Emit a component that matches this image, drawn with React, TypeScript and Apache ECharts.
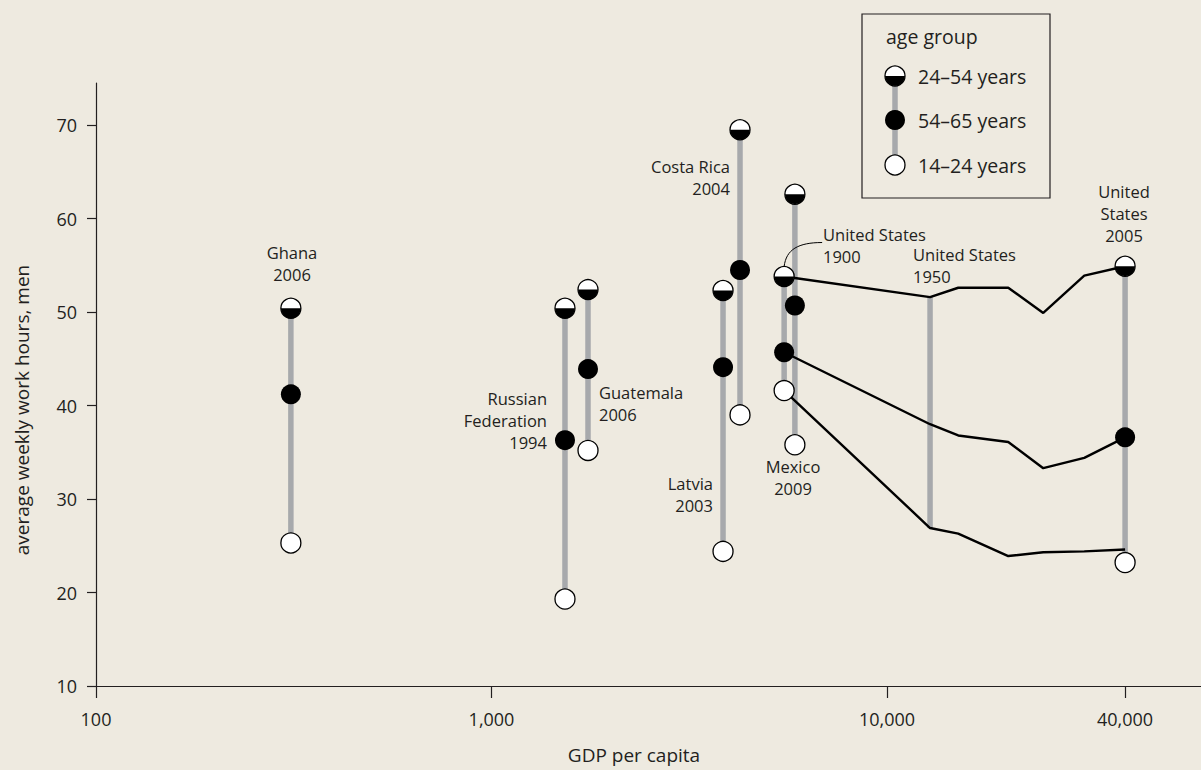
import React, { useEffect, useRef } from 'react';
import * as echarts from 'echarts';

// ---------- data ----------
const countryLabels = [
  'Ghana 2006',
  'Russian Federation 1994',
  'Guatemala 2006',
  'Latvia 2003',
  'Costa Rica 2004',
  'United States 1900',
  'Mexico 2009',
  'United States 2005',
];
const countryGdp = [311, 1534, 1754, 3850, 4250, 5495, 5850, 40000];
const hoursAge24to54 = [50.4, 50.4, 52.4, 52.3, 69.5, 53.8, 62.6, 54.9];
const hoursAge54to65 = [41.2, 36.3, 43.9, 44.1, 54.5, 45.7, 50.7, 36.6];
const hoursAge14to24 = [25.3, 19.3, 35.2, 24.4, 39.0, 41.6, 35.8, 23.2];

// United States trajectory 1900 -> 2005
const usPathGdp = [5495, 12850, 15140, 20260, 24840, 31540, 40000];
const usPath24to54 = [53.8, 51.6, 52.6, 52.6, 49.9, 53.9, 54.9];
const usPath54to65 = [45.7, 38.0, 36.8, 36.1, 33.3, 34.4, 36.6];
const usPath14to24 = [41.6, 26.9, 26.3, 23.9, 24.3, 24.4, 24.6];
const us1950Index = 1;

const xTickValues = [100, 1000, 10000, 40000];
const yTickValues = [10, 20, 30, 40, 50, 60, 70];

// ---------- styles ----------
const FONT = 'Open Sans';
const BG = '#eeeae0';
const INK = '#231f20';
const GRAY = '#a7a9ac';
const R = 10;
const TICK_FS = 18;
const NOTE_FS = 16.5;
const LEGEND_FS = 19.5;
const TITLE_FS = 19;

const lg = (v: number) => Math.log10(v);

const barData = countryGdp.map((g, i) => [lg(g), hoursAge24to54[i], hoursAge14to24[i]]);
barData.push([lg(usPathGdp[us1950Index]), usPath24to54[us1950Index], usPath14to24[us1950Index]]);

const pairs = (xs: number[], ys: number[]) => xs.map((x, i) => [lg(x), ys[i]]);

const halfMarker = (cx: number, cy: number, z?: number) => {
  const zz = z === undefined ? {} : { z };
  return {
    type: 'group',
    children: [
      { type: 'circle', ...zz, shape: { cx, cy, r: R }, style: { fill: '#ffffff' } },
      {
        type: 'sector',
        ...zz,
        shape: { cx, cy, r: R, r0: 0, startAngle: 0, endAngle: Math.PI, clockwise: true },
        style: { fill: '#000000' },
      },
      {
        type: 'circle',
        ...zz,
        shape: { cx, cy, r: R },
        style: { fill: 'none', stroke: '#000000', lineWidth: 1.3 },
      },
    ],
  };
};

const option: any = {
  animation: false,
  backgroundColor: BG,
  textStyle: { fontFamily: FONT },
  grid: { left: 96, right: 0, top: 83, bottom: 84, containLabel: false },
  xAxis: {
    type: 'value',
    min: 2,
    max: 4.794,
    splitLine: { show: false },
    axisLine: { lineStyle: { color: INK, width: 1.2 } },
    axisTick: { customValues: xTickValues.map(lg), length: 12, lineStyle: { color: INK, width: 1.2 } },
    axisLabel: {
      customValues: xTickValues.map(lg),
      formatter: (v: number) => Math.round(Math.pow(10, v)).toLocaleString('en-US'),
      color: INK,
      fontSize: TICK_FS,
      fontFamily: FONT,
      margin: 24,
    },
  },
  yAxis: {
    type: 'value',
    min: 10,
    max: 74.5,
    splitLine: { show: false },
    axisLine: { lineStyle: { color: INK, width: 1.2 } },
    axisTick: { customValues: yTickValues, length: 9, lineStyle: { color: INK, width: 1.2 } },
    axisLabel: { customValues: yTickValues, color: INK, fontSize: TICK_FS, fontFamily: FONT, margin: 19 },
  },
  series: [
    {
      type: 'custom',
      name: 'range',
      z: 1,
      data: barData,
      renderItem: (_p: any, api: any) => {
        const a = api.coord([api.value(0), api.value(1)]);
        const b = api.coord([api.value(0), api.value(2)]);
        return {
          type: 'line',
          shape: { x1: a[0], y1: a[1], x2: b[0], y2: b[1] },
          style: { stroke: GRAY, lineWidth: 5.5 },
        };
      },
    },
    ...[usPath24to54, usPath54to65, usPath14to24].map((ys) => ({
      type: 'line',
      z: 2,
      data: pairs(usPathGdp, ys),
      symbol: 'none',
      lineStyle: { color: '#000000', width: 2.4 },
    })),
    {
      type: 'scatter',
      name: '14–24 years',
      z: 3,
      data: pairs(countryGdp, hoursAge14to24),
      symbol: 'circle',
      symbolSize: 2 * R,
      itemStyle: { color: '#ffffff', borderColor: '#000000', borderWidth: 1.3, opacity: 1 },
    },
    {
      type: 'scatter',
      name: '54–65 years',
      z: 3,
      data: pairs(countryGdp, hoursAge54to65),
      symbol: 'circle',
      symbolSize: 2 * R,
      itemStyle: { color: '#000000', opacity: 1 },
    },
    {
      type: 'custom',
      name: '24–54 years',
      z: 3,
      data: pairs(countryGdp, hoursAge24to54),
      renderItem: (_p: any, api: any) => {
        const c = api.coord([api.value(0), api.value(1)]);
        return halfMarker(c[0], c[1]);
      },
    },
  ],
};

const txt = (text: string, x: number, y: number, align: string, fs: number = NOTE_FS) => ({
  type: 'text',
  x,
  y,
  z: 10,
  style: {
    text,
    fill: INK,
    fontFamily: FONT,
    fontSize: fs,
    textAlign: align,
    textVerticalAlign: 'middle',
    lineHeight: 22,
  },
});

export default function App() {
  const ref = useRef<HTMLDivElement>(null);
  useEffect(() => {
    document.body.style.margin = '0';
    const chart = echarts.init(ref.current as HTMLDivElement, null, { renderer: 'svg' });
    chart.setOption(option);

    const us1900 = chart.convertToPixel({ gridIndex: 0 }, [lg(countryGdp[5]), hoursAge24to54[5]]) as number[];
    const sx = us1900[0];
    const sy = us1900[1] - R;

    const graphics: any[] = [
      // annotations
      txt('Ghana\n2006', 292, 263.5, 'center'),
      txt('Russian\nFederation\n1994', 547, 420.5, 'right'),
      txt('Guatemala\n2006', 599, 403.5, 'left'),
      txt('Latvia\n2003', 713, 494, 'right'),
      txt('Costa Rica\n2004', 730, 177, 'right'),
      txt('United States\n1900', 823, 245.5, 'left'),
      txt('United States\n1950', 913, 265, 'left'),
      txt('Mexico\n2009', 793, 477, 'center'),
      txt('United\nStates\n2005', 1124, 213, 'center'),
      {
        type: 'bezierCurve',
        z: 10,
        shape: { x1: sx, y1: sy, cpx1: sx + 2, cpy1: sy - 17, cpx2: sx + 14, cpy2: sy - 24, x2: sx + 38, y2: sy - 24 },
        style: { stroke: '#000000', lineWidth: 1, fill: 'none' },
      },
      // axis titles
      txt('GDP per capita', 634, 755, 'center', TITLE_FS),
      {
        ...txt('average weekly work hours, men', 0, 0, 'center', TITLE_FS),
        x: 22,
        y: 410,
        rotation: Math.PI / 2,
      },
      // legend
      {
        type: 'rect',
        z: 10,
        shape: { x: 862, y: 14, width: 188, height: 184 },
        style: { fill: 'none', stroke: INK, lineWidth: 1.2 },
      },
      txt('age group', 886, 36, 'left', LEGEND_FS),
      {
        type: 'line',
        z: 10,
        shape: { x1: 895, y1: 76, x2: 895, y2: 165 },
        style: { stroke: GRAY, lineWidth: 5.5 },
      },
      halfMarker(895, 76, 11),
      {
        type: 'circle',
        z: 11,
        shape: { cx: 895, cy: 120, r: R },
        style: { fill: '#000000' },
      },
      {
        type: 'circle',
        z: 11,
        shape: { cx: 895, cy: 165, r: R },
        style: { fill: '#ffffff', stroke: '#000000', lineWidth: 1.3 },
      },
      txt('24–54 years', 918, 76, 'left', LEGEND_FS),
      txt('54–65 years', 918, 120, 'left', LEGEND_FS),
      txt('14–24 years', 918, 165, 'left', LEGEND_FS),
    ];
    chart.setOption({ graphic: graphics });
    return () => chart.dispose();
  }, []);
  return <div ref={ref} style={{ width: 1201, height: 770 }} />;
}
